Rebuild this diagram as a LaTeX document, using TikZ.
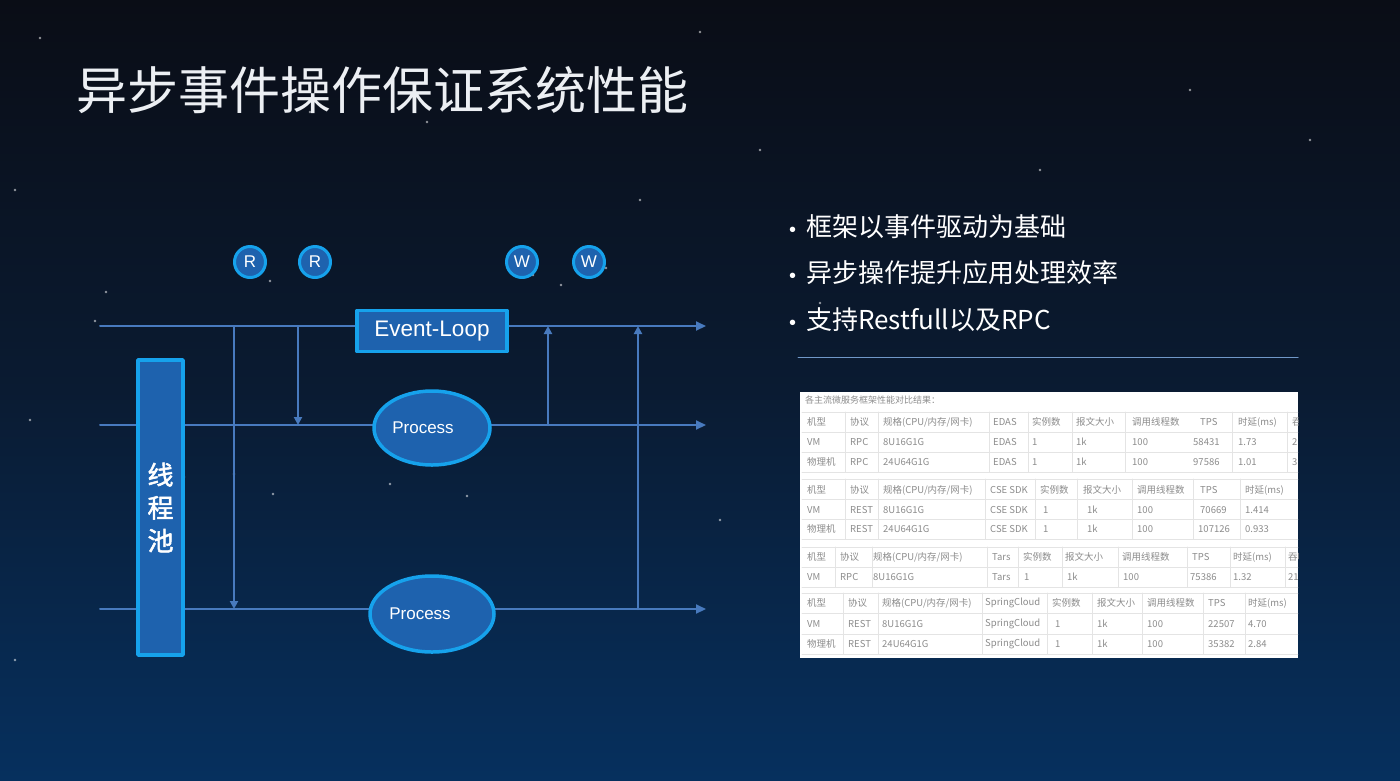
\documentclass[tikz,border=0pt]{standalone}
\usepackage{fontspec}
\setmainfont{Noto Sans CJK SC}
\newfontfamily\arial{Liberation Sans}
\newfontfamily\cjkbold[FakeBold=2]{Noto Sans CJK SC}
\usetikzlibrary{arrows.meta,shapes.geometric}

\definecolor{skytop}{RGB}{10,13,22}
\definecolor{skymid}{RGB}{10,27,50}
\definecolor{skylow}{RGB}{6,48,94}
\definecolor{flow}{RGB}{72,122,190}
\definecolor{boxfill}{RGB}{30,98,174}
\definecolor{boxedge}{RGB}{22,162,236}
\definecolor{titlewhite}{RGB}{236,239,243}
\definecolor{cellgrey}{RGB}{140,140,140}
\definecolor{cellrule}{RGB}{228,228,228}
\definecolor{sepline}{RGB}{112,152,200}

\newcommand{\dotmark}{\llap{{\arial\fontsize{20}{20}\selectfont\textbullet}\hspace*{10pt}}}

\tikzset{
  flowline/.style={draw=flow, line width=2pt},
  flowarrow/.style={flowline, -{Triangle[length=10pt,width=9pt]}},
  droparrow/.style={flowline, -{Triangle[length=8pt,width=8pt]}},
  blockbox/.style={draw=boxedge, fill=boxfill, line width=3.5pt, text=white},
  rwdot/.style={circle, blockbox, line width=3pt, minimum size=31pt, inner sep=0pt,
    font=\arial\fontsize{17}{17}\selectfont},
  proc/.style={ellipse, blockbox, inner sep=0pt, font=\arial\fontsize{17}{17}\selectfont},
  bullet/.style={anchor=west, inner sep=0pt, text=white, font=\fontsize{26}{26}\selectfont},
  cell/.style={anchor=west, inner sep=0pt, text=cellgrey, font=\fontsize{9.5}{10}\selectfont},
  tabrule/.style={draw=cellrule, line width=0.8pt},
  star/.style={fill=white, opacity=0.55}
}

\begin{document}
\begin{tikzpicture}[x=1pt, y=-1pt, line cap=round, line join=round]

\useasboundingbox (0,0) rectangle (1400,780);
\shade[top color=skytop, bottom color=skylow, middle color=skymid] (0,0) rectangle (1400,780);

% stars
\foreach \p in {(40,38),(106,292),(95,321),(15,190),(270,281),(533,275),(561,285),(606,268),
  (184,477),(234,474),(273,494),(390,484),(467,496),(310,112),(427,122),(578,83),(700,32),
  (760,150),(905,218),(958,278),(820,303),(1190,90),(1310,140),(1040,170),(640,200),(30,420),
  (15,660),(720,520)}
  \fill[star] \p circle[radius=1.3pt];

% title
\node[anchor=west, inner sep=0pt, text=titlewhite, font=\fontsize{51}{51}\selectfont]
  (title) at (76,90) {异步事件操作保证系统性能};

% three event lines
\coordinate (l1w) at (100,326); \coordinate (l1e) at (706,326);
\coordinate (l2w) at (100,425); \coordinate (l2e) at (706,425);
\coordinate (l3w) at (100,609); \coordinate (l3e) at (706,609);
\draw[flowarrow] (l1w) -- (l1e);
\draw[flowarrow] (l2w) -- (l2e);
\draw[flowarrow] (l3w) -- (l3e);

\coordinate (v1a) at (234,326); \coordinate (v1b) at (234,609);
\coordinate (v2a) at (298,326); \coordinate (v2b) at (298,425);
\coordinate (v3a) at (548,425); \coordinate (v3b) at (548,326);
\coordinate (v4a) at (638,609); \coordinate (v4b) at (638,326);
\draw[droparrow] (v1a) -- (v1b);
\draw[droparrow] (v2a) -- (v2b);
\draw[droparrow] (v3a) -- (v3b);
\draw[droparrow] (v4a) -- (v4b);

% blocks
\node[blockbox, minimum width=150pt, minimum height=41pt, inner sep=0pt,
  font=\arial\fontsize{22.5}{22.5}\selectfont] (loop) at (432,331) {Event-Loop};
\node[blockbox, minimum width=45pt, minimum height=295pt, inner sep=0pt, align=center,
  font=\cjkbold\fontsize{26}{33}\selectfont] (pool) at (160.5,507.5) {线\\程\\池};
\node[proc, minimum width=116pt, minimum height=74pt] (proc1) at (432,428) {Process\hspace*{18pt}};
\node[proc, minimum width=124pt, minimum height=76pt] (proc2) at (432,614) {Process\hspace*{24pt}};

\node[rwdot] (r1) at (250,262) {R};
\node[rwdot] (r2) at (315,262) {R};
\node[rwdot] (w1) at (522,262) {W};
\node[rwdot] (w2) at (589,262) {W};

% bullets
\node[bullet] (b1) at (806,227) {\dotmark 框架以事件驱动为基础};
\node[bullet] (b2) at (806,273) {\dotmark 异步操作提升应用处理效率};
\node[bullet] (b3) at (806,320) {\dotmark 支持Restfull以及RPC};
\coordinate (s1) at (798,357); \coordinate (s2) at (1298,357);
\draw[draw=sepline, line width=1pt] (s1) -- (s2);

% benchmark table
\fill[white] (800,392) rectangle (1298,658);
\begin{scope}
\clip (800,392) rectangle (1298,658);

\node[cell, font=\itshape\fontsize{9}{10}\selectfont] (cap) at (805,400) {各主流微服务框架性能对比结果：};

\foreach \y in {412,432,452,472,479,499,519,539,547,567,587,593,613,634,654}
  \draw[tabrule] (802,\y) -- (1298,\y);
\foreach \x in {845,878,989,1028,1072,1125,1232,1287} \draw[tabrule] (\x,412) -- (\x,472);
\foreach \x in {845,878,985,1035,1077,1132,1193,1240} \draw[tabrule] (\x,479) -- (\x,539);
\foreach \x in {835,872,987,1018,1062,1118,1187,1230,1285} \draw[tabrule] (\x,547) -- (\x,587);
\foreach \x in {843,878,982,1047,1092,1142,1203,1245} \draw[tabrule] (\x,593) -- (\x,654);

\foreach \x/\t [count=\i] in {807/机型,850/协议,883/{规格(CPU/内存/网卡)},993/EDAS,1032/实例数,
  1076/报文大小,1132/调用线程数,1200/TPS,1238/{时延(ms)},1292/吞吐量}
  \node[cell] (ah\i) at (\x,422) {\t};
\foreach \x/\t [count=\i] in {807/VM,850/RPC,883/8U16G1G,993/EDAS,1032/1,1076/1k,1132/100,
  1193/58431,1238/1.73,1292/2}
  \node[cell] (aa\i) at (\x,442) {\t};
\foreach \x/\t [count=\i] in {807/物理机,850/RPC,883/24U64G1G,993/EDAS,1032/1,1076/1k,1132/100,
  1193/97586,1238/1.01,1292/3}
  \node[cell] (ab\i) at (\x,462) {\t};

\foreach \x/\t [count=\i] in {807/机型,850/协议,883/{规格(CPU/内存/网卡)},990/CSE SDK,1040/实例数,
  1083/报文大小,1137/调用线程数,1200/TPS,1245/{时延(ms)}}
  \node[cell] (bh\i) at (\x,490) {\t};
\foreach \x/\t [count=\i] in {807/VM,850/REST,883/8U16G1G,990/CSE SDK,1043/1,1087/1k,1137/100,
  1200/70669,1245/1.414}
  \node[cell] (ba\i) at (\x,510) {\t};
\foreach \x/\t [count=\i] in {807/物理机,850/REST,883/24U64G1G,990/CSE SDK,1043/1,1087/1k,1137/100,
  1198/107126,1245/0.933}
  \node[cell] (bb\i) at (\x,529) {\t};

\foreach \x/\t [count=\i] in {807/机型,840/协议,873/{规格(CPU/内存/网卡)},992/Tars,1023/实例数,
  1065/报文大小,1122/调用线程数,1192/TPS,1233/{时延(ms)},1288/吞吐量}
  \node[cell] (ch\i) at (\x,557) {\t};
\foreach \x/\t [count=\i] in {807/VM,840/RPC,873/8U16G1G,992/Tars,1024/1,1067/1k,1123/100,
  1190/75386,1233/1.32,1288/21}
  \node[cell] (ca\i) at (\x,577) {\t};

\foreach \x/\t [count=\i] in {807/机型,848/协议,882/{规格(CPU/内存/网卡)},985/SpringCloud,1052/实例数,
  1097/报文大小,1147/调用线程数,1208/TPS,1248/{时延(ms)}}
  \node[cell] (dh\i) at (\x,603) {\t};
\foreach \x/\t [count=\i] in {807/VM,848/REST,882/8U16G1G,985/SpringCloud,1055/1,1097/1k,1147/100,
  1208/22507,1248/4.70}
  \node[cell] (da\i) at (\x,624) {\t};
\foreach \x/\t [count=\i] in {807/物理机,848/REST,882/24U64G1G,985/SpringCloud,1055/1,1097/1k,1147/100,
  1208/35382,1248/2.84}
  \node[cell] (db\i) at (\x,644) {\t};
\end{scope}

\end{tikzpicture}
\end{document}
